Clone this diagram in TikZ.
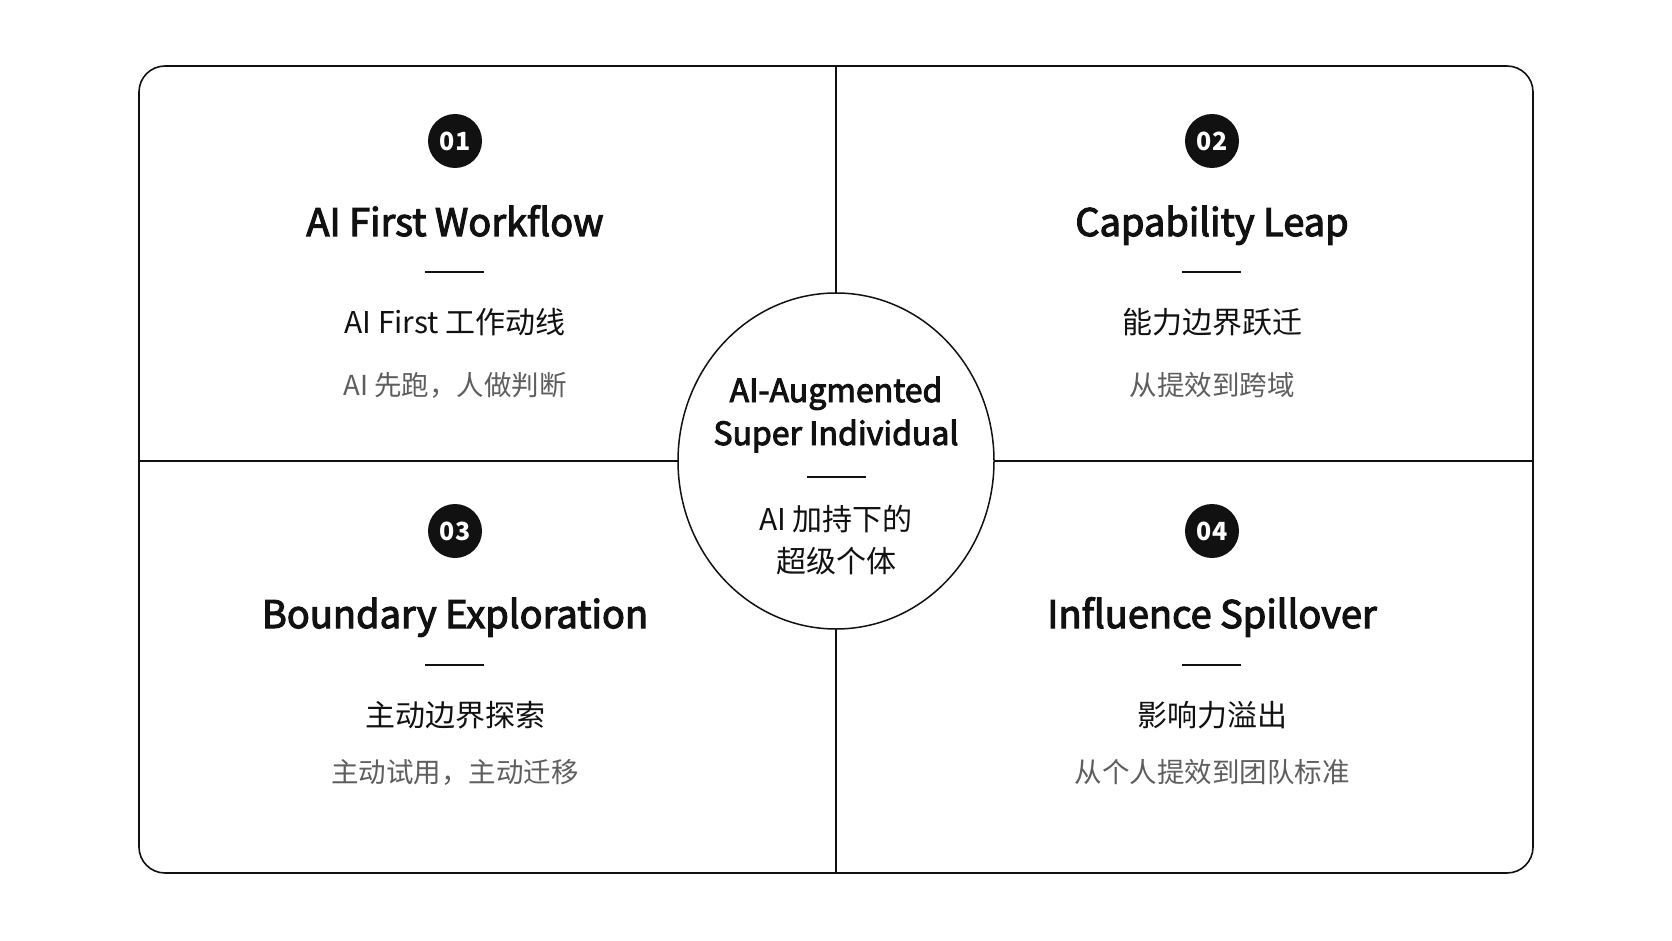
\documentclass[tikz,border=0pt]{standalone}
\usepackage{fontspec}
\setmainfont{Noto Sans CJK SC}
\newfontfamily\medfont[FakeBold=3]{Noto Sans CJK SC}
\usetikzlibrary{shapes.geometric}
\definecolor{ink}{HTML}{111111}
\definecolor{greytext}{HTML}{5E5E5E}
\begin{document}
\begin{tikzpicture}[x=1pt,y=-1pt,
  frame/.style={draw=ink, line width=1.6pt},
  divider/.style={draw=ink, line width=1.4pt},
  rule/.style={draw=ink, line width=1.6pt},
  badge/.style={circle, fill=ink, minimum size=54pt, inner sep=0pt, text=white, font=\fontsize{25}{25}\selectfont\bfseries},
  ttl/.style={anchor=base, text=ink, inner sep=0pt, font=\fontsize{38}{40}\selectfont\medfont},
  sub/.style={anchor=base, text=ink, inner sep=0pt, font=\fontsize{30}{31}\selectfont},
  note/.style={anchor=base, text=greytext, inner sep=0pt, font=\fontsize{27.5}{29}\selectfont},
  ctr/.style={anchor=base, text=ink, inner sep=0pt, font=\fontsize{32}{33}\selectfont\medfont},
  ctrsub/.style={anchor=base, text=ink, inner sep=0pt, font=\fontsize{30}{31}\selectfont}
]
\useasboundingbox[fill=white] (0,0) rectangle (1672,941);
% frame
\draw[frame, rounded corners=26pt] (139,66) rectangle (1533,873);
% dividers
\coordinate (dT) at (836,66);
\coordinate (dB) at (836,873);
\coordinate (dL) at (139,461);
\coordinate (dR) at (1533,461);
\draw[divider] (dT) -- (dB);
\draw[divider] (dL) -- (dR);
% centre ellipse
\node[ellipse, draw=ink, line width=1.5pt, fill=white, minimum width=316pt, minimum height=336pt, inner sep=0pt] (core) at (836,461) {};
\node[ctr] (c1) at (836,402) {AI-Augmented};
\node[ctr] (c2) at (836,445) {Super Individual};
\coordinate (cr1) at (807,477);
\coordinate (cr2) at (866,477);
\draw[rule] (cr1) -- (cr2);
\node[ctrsub] (c3) at (836,530) {AI 加持下的};
\node[ctrsub] (c4) at (836,572) {超级个体};

% quadrant 1
\node[badge] (b1) at (455,141) {01};
\node[ttl] (t1) at (455,236) {AI First Workflow};
\coordinate (r1a) at (425,272); \coordinate (r1b) at (484,272);
\draw[rule] (r1a) -- (r1b);
\node[sub] (s1) at (455,333) {AI First 工作动线};
\node[note] (n1) at (455,395) {AI 先跑，人做判断};

% quadrant 2
\node[badge] (b2) at (1212,141) {02};
\node[ttl] (t2) at (1212,236) {Capability Leap};
\coordinate (r2a) at (1182,272); \coordinate (r2b) at (1241,272);
\draw[rule] (r2a) -- (r2b);
\node[sub] (s2) at (1212,333) {能力边界跃迁};
\node[note] (n2) at (1212,395) {从提效到跨域};

% quadrant 3
\node[badge] (b3) at (455,531) {03};
\node[ttl] (t3) at (455,628) {Boundary Exploration};
\coordinate (r3a) at (425,665); \coordinate (r3b) at (484,665);
\draw[rule] (r3a) -- (r3b);
\node[sub] (s3) at (455,726) {主动边界探索};
\node[note] (n3) at (455,782) {主动试用，主动迁移};

% quadrant 4
\node[badge] (b4) at (1212,531) {04};
\node[ttl] (t4) at (1212,628) {Influence Spillover};
\coordinate (r4a) at (1182,665); \coordinate (r4b) at (1241,665);
\draw[rule] (r4a) -- (r4b);
\node[sub] (s4) at (1212,726) {影响力溢出};
\node[note] (n4) at (1212,782) {从个人提效到团队标准};
\end{tikzpicture}
\end{document}
